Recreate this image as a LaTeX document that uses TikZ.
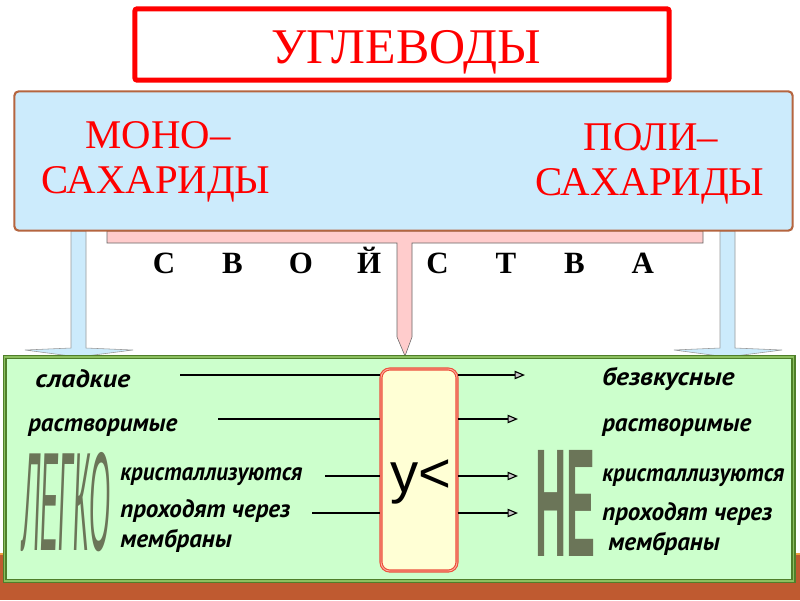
\documentclass[tikz,border=0pt]{standalone}
\usepackage{fontspec}
\setmainfont{Liberation Serif}
\newfontfamily\arialfont{Liberation Sans}
\newfontfamily\italfont{PT Sans}
\usetikzlibrary{arrows.meta,positioning,shapes.misc}
\definecolor{skyfill}{RGB}{204,235,252}
\definecolor{rimbrown}{RGB}{181,101,63}
\definecolor{rosefill}{RGB}{255,204,204}
\definecolor{mintfill}{RGB}{204,255,204}
\definecolor{leafdark}{RGB}{79,127,42}
\definecolor{leaflight}{RGB}{140,191,95}
\definecolor{soilbrown}{RGB}{191,90,48}
\definecolor{soilorange}{RGB}{240,160,64}
\definecolor{creamfill}{RGB}{255,255,213}
\definecolor{boxred}{RGB}{236,80,60}
\definecolor{boxpink}{RGB}{255,176,160}
\definecolor{olivegray}{RGB}{107,117,88}

\begin{document}
\begin{tikzpicture}[x=0.025cm, y=-0.025cm,
  heading/.style={text=red, font=\fontsize{29}{32}\selectfont, inner sep=0, anchor=base},
  letter/.style={font=\bfseries\fontsize{22}{24}\selectfont, inner sep=0, anchor=base},
  lbl/.style={font=\italfont\bfseries\itshape\fontsize{17.8}{20}\selectfont, inner sep=0, anchor=mid west},
  bigword/.style={text=olivegray, font=\arialfont, inner sep=0, anchor=base west},
  feed/.style={thick, black},
  feedarr/.style={thick, black, -{Triangle[length=2.6mm, width=2.1mm, fill=gray!45]}},
  downarrow/.style={fill=skyfill, draw=gray!80, thin},
  >=Stealth]
  \useasboundingbox (0,0) rectangle (800,600);
  \fill[white] (0,0) rectangle (800,600);
  % ground strip
  \fill[soilbrown] (0,555) rectangle (800,600);
  \draw[soilorange, line width=1.4pt] (0,554) -- (800,554);

  % arrows from the top box
  \draw[downarrow] (71,231) -- (71,348) -- (25,350) -- (78,357) -- (133,350) -- (86,348) -- (86,231) -- cycle;
  \draw[downarrow] (720,231) -- (720,348) -- (674,350) -- (727,357) -- (782,350) -- (735,348) -- (735,231) -- cycle;
  \draw[fill=rosefill, draw=gray!80!black, thin] (107,231) -- (703,231) -- (703,243) -- (412,243)
      -- (412,337) -- (405,356) -- (397,337) -- (397,243) -- (107,243) -- cycle;

  % title and the two classes
  \node[draw=red, line width=3.6pt, rounded corners=1.5pt, fill=white, minimum width=13.35cm,
        minimum height=1.78cm] (titlebox) at (402,44.5) {};
  \node[text=red, font=\fontsize{35.5}{38}\selectfont, inner sep=0, anchor=base] (title) at (406,63) {УГЛЕВОДЫ};
  \node[draw=rimbrown, line width=1.5pt, rounded corners=3pt, fill=skyfill, minimum width=19.45cm,
        minimum height=3.48cm] (classes) at (403.5,161) {};
  \node[heading] (mono1) at (158,148) {МОНО–};
  \node[heading] (mono2) at (156,193) {САХАРИДЫ};
  \node[heading] (poly1) at (651,150) {ПОЛИ–};
  \node[heading] (poly2) at (650,195) {САХАРИДЫ};

  \foreach \ch [count=\i] in {С,В,О,Й,С,Т,В,А}
    \node[letter] (p\i) at ({164+68.4*(\i-1)},273) {\ch};

  % properties panel
  \node[chamfered rectangle, chamfered rectangle xsep=1.6mm, chamfered rectangle ysep=1.6mm,
        draw=leafdark, double=leaflight, double distance=0.8pt, line width=1.3pt, fill=mintfill,
        inner sep=0, minimum width=19.7cm, minimum height=5.6cm] (props) at (399,469) {};
  \node[draw=boxred, double=boxpink, double distance=0.6pt, line width=0.8pt, rounded corners=2.2mm,
        fill=creamfill, minimum width=1.9cm, minimum height=5.05cm] (ubox) at (419,470) {};
  \node[font=\arialfont\fontsize{40}{42}\selectfont, inner sep=0] (usign) at (421,482) {у<};

  \foreach \y/\xl/\xr [count=\i] in {375/180/525, 419/218/518, 476/325/518, 513/312/518} {
    \coordinate (in\i) at (\xl,\y);
    \coordinate (out\i) at (\xr,\y);
    \draw[feed] (in\i) -- (in\i -| ubox.west);
    \draw[feedarr] (out\i -| ubox.east) -- (out\i);
  }

  % monosaccharides
  \node[lbl] (sweet) at (35,384) {\scalebox{1.12}[1]{сладкие}};
  \node[lbl] (solmono) at (28,428) {растворимые};
  \node[lbl] (crysmono) at (120,477) {\scalebox{0.92}[1]{кристаллизуются}};
  \node[lbl] (passmono) at (120,514) {проходят через};
  \node[lbl] (membmono) at (120,544) {мембраны};
  \node[bigword] (easily) at (22,550) {\resizebox{2.2cm}{2.45cm}{\itshape ЛЕГКО}};

  % polysaccharides
  \node[lbl] (tasteless) at (602,382) {\scalebox{1.1}[1]{безвкусные}};
  \node[lbl] (solpoly) at (602,428) {растворимые};
  \node[lbl] (cryspoly) at (602,478) {\scalebox{0.92}[1]{кристаллизуются}};
  \node[lbl] (passpoly) at (602,517) {проходят через};
  \node[lbl] (membpoly) at (608,547) {мембраны};
  \node[bigword] (notword) at (535,556) {\resizebox{1.5cm}{2.65cm}{\bfseries НЕ}};
\end{tikzpicture}
\end{document}
